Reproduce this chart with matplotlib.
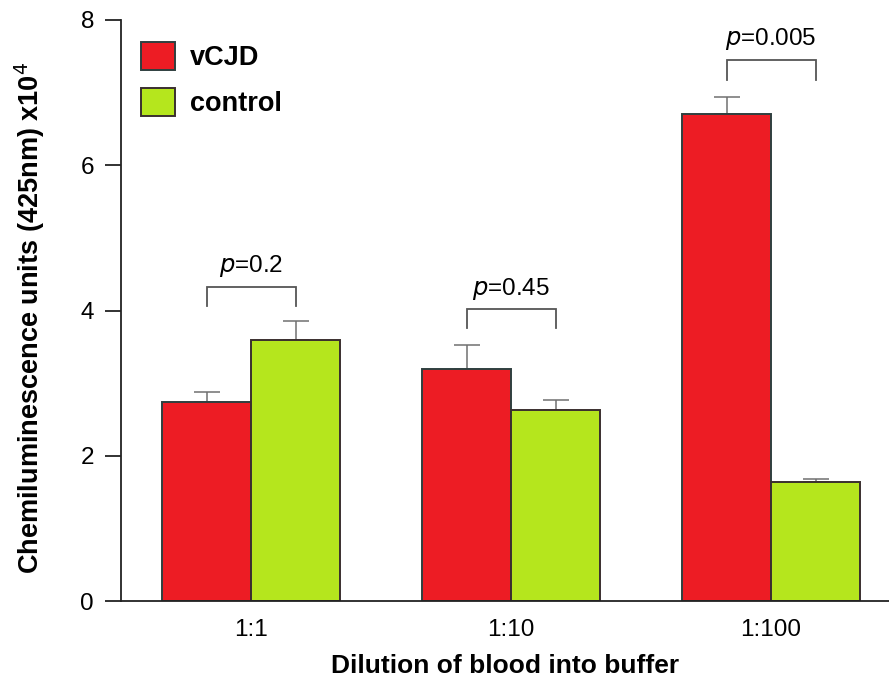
import matplotlib
matplotlib.use("Agg")
import matplotlib.pyplot as plt
from matplotlib.patches import Patch
import numpy as np

plt.rcParams['font.family'] = ['Liberation Sans', 'DejaVu Sans']

categories = ["1:1", "1:10", "1:100"]
vcjd = [2.74, 3.20, 6.71]
vcjd_err = [0.14, 0.33, 0.23]
control = [3.60, 2.63, 1.64]
control_err = [0.25, 0.14, 0.04]
pvalues = ["0.2", "0.45", "0.005"]
bracket_top = [4.33, 4.02, 7.45]
bracket_leg = [4.06, 3.76, 7.18]

fig = plt.figure(figsize=(8.89, 6.77), dpi=100)
ax = fig.add_axes([121/889, 1-601/677, 1-121/889, (601-20)/677])

x = np.arange(len(categories))
w = 89/260
red = "#ED1C24"
green = "#B5E61D"
ax.bar(x - w/2, vcjd, w, color=red, edgecolor="#2f3f3f", linewidth=1.4, zorder=2)
ax.bar(x + w/2, control, w, color=green, edgecolor="#3a2f2f", linewidth=1.4, zorder=2)
ax.errorbar(x - w/2, vcjd, yerr=[np.zeros(3), vcjd_err], fmt='none', ecolor="#707070",
            elinewidth=1.1, capsize=9.7, capthick=1.1, zorder=1)
ax.errorbar(x + w/2, control, yerr=[np.zeros(3), control_err], fmt='none', ecolor="#707070",
            elinewidth=1.1, capsize=9.7, capthick=1.1, zorder=1)

for i in range(len(categories)):
    x1, x2 = x[i] - w/2, x[i] + w/2
    ax.plot([x1, x1, x2, x2], [bracket_leg[i], bracket_top[i], bracket_top[i], bracket_leg[i]],
            color="#555555", lw=1.3, solid_joinstyle='miter')
    ax.text(x[i], bracket_top[i] + 0.2, r"$\it{p}$" + "=" + pvalues[i], ha="center",
            va="baseline", fontsize=17.5)

ax.set_xlim(-0.5, (889-251)/260)
ax.set_ylim(0, 8)
ax.set_yticks([0, 2, 4, 6, 8])
ax.set_xticks(x)
ax.set_xticklabels(categories)
ax.tick_params(axis='y', length=11.5, width=1.3, labelsize=17.5, pad=8, color="#222222")
ax.tick_params(axis='x', length=0, labelsize=17.5, pad=13)
for s in ["top", "right"]:
    ax.spines[s].set_visible(False)
for s in ["left", "bottom"]:
    ax.spines[s].set_linewidth(1.3)
    ax.spines[s].set_color("#222222")

ax.set_ylabel("Chemiluminescence units (425nm) x10$^4$", fontsize=19.5, fontweight="bold")
ax.yaxis.set_label_coords(-0.097, 0.487)
ax.set_xlabel("Dilution of blood into buffer", fontsize=19, fontweight="bold", labelpad=9.5)

handles = [Patch(facecolor=red, edgecolor="#2f3f3f", linewidth=1.4),
           Patch(facecolor=green, edgecolor="#3a2f2f", linewidth=1.4)]
leg = ax.legend(handles, ["vCJD", "control"], loc="upper left",
                bbox_to_anchor=((141-121)/768, (601-42)/581),
                frameon=False, handlelength=1.26, handleheight=1.22, handletextpad=0.55,
                labelspacing=0.61, borderpad=0, borderaxespad=0,
                prop={"weight": "bold", "size": 19.5})

fig.savefig("out.png", dpi=100)
